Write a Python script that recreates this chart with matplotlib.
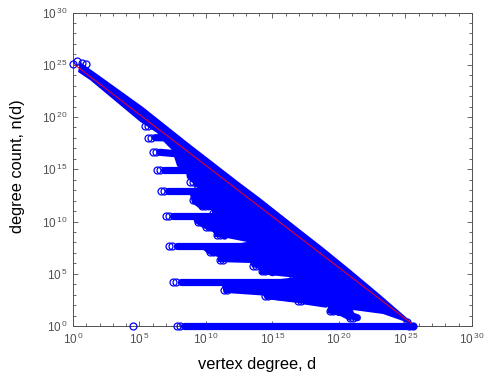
import numpy as np
import matplotlib
matplotlib.use("Agg")
import matplotlib.pyplot as plt

plt.rcParams['font.family'] = ['Liberation Sans', 'DejaVu Sans']
plt.rcParams['mathtext.default'] = 'regular'

# all values are log10 of the axis value
# fit line
fit_d = [0.15, 25.41]
fit_n = [24.98, 0.29]

# outline of the solid blue mass
blob_d = [0.53, 1.80, 5.26, 8.57, 12.56, 14.06, 17.07, 18.80, 20.83, 23.08, 25.11, 25.49,
          25.11, 24.81, 23.31, 21.05, 21.20, 20.83, 20.08, 19.10, 19.17, 18.72, 16.92, 14.44,
          14.21, 11.35, 11.20, 16.54, 13.98, 14.06, 13.46, 13.31, 10.90, 10.90, 10.15, 9.77,
          13.08, 11.58, 10.68, 10.53, 9.77, 9.17, 9.02, 10.45, 10.45, 9.55, 8.95, 8.80,
          9.40, 8.57, 8.50, 7.82, 7.44, 6.77, 6.32, 5.04, 1.28, 0.38]
blob_n = [25.26, 24.12, 20.96, 17.61, 13.68, 12.25, 9.23, 7.51, 5.41, 3.01, 0.77, 0.29,
          0.29, 0.48, 1.15, 1.53, 1.05, 0.48, 0.96, 1.24, 1.82, 1.91, 2.20, 2.58,
          3.16, 3.16, 3.83, 4.64, 4.98, 5.45, 5.65, 6.03, 6.12, 6.60, 6.89, 7.32,
          8.04, 8.42, 8.52, 9.00, 9.38, 9.86, 10.24, 10.81, 11.10, 11.20, 11.77, 12.54,
          13.21, 14.16, 14.64, 15.31, 16.84, 17.70, 18.47, 19.55, 23.54, 24.31]

# horizontal runs sticking out of the mass: start d, end d, start n, end n
run_d0 = [5.39, 5.64, 5.99, 6.29, 6.62, 6.97, 7.24, 7.54, 7.80,
          8.50, 8.80, 9.38, 9.05, 9.68, 10.50, 9.42, 10.00, 10.80, 10.30, 11.05,
          13.53, 14.19, 11.35, 14.44, 16.54, 16.92, 19.32, 20.83]
run_d1 = [6.30, 7.40, 7.60, 8.60, 9.60, 10.60, 13.00, 17.00, 25.60,
          9.00, 9.30, 9.80, 9.50, 10.20, 11.00, 10.00, 10.60, 11.40, 11.00, 11.60,
          14.20, 15.00, 15.00, 17.00, 17.20, 19.00, 20.00, 21.00]
run_n0 = [19.17, 18.02, 16.62, 14.90, 12.89, 10.53, 7.66, 4.21, 0.00,
          15.24, 13.78, 13.27, 12.06, 11.48, 10.84, 9.95, 9.44, 8.71, 7.08, 6.34,
          5.77, 5.26, 3.47, 2.87, 4.62, 2.39, 1.46, 0.79]
run_n1 = [19.00, 18.00, 16.50, 14.90, 12.89, 10.53, 7.66, 4.21, 0.00,
          15.10, 13.60, 13.20, 12.00, 11.40, 10.80, 9.80, 9.30, 8.60, 7.00, 6.30,
          5.70, 5.10, 3.20, 2.60, 4.50, 2.10, 1.30, 0.95]

# open circles that stay visible
head_d = [0.02, 0.32, 0.65, 0.98, 4.50, 25.10, 25.30, 25.55]
head_n = [25.04, 25.33, 25.20, 25.08, 0.00, 0.35, 0.00, 0.00]

major_exp = [0, 5, 10, 15, 20, 25, 30]
tick_labels = [r'$10^{\,%d}$' % e for e in major_exp]
minor_exp = [e for e in range(31) if e not in major_exp]

blue = '#0000ff'
gray = '#505050'

fig = plt.figure(figsize=(4.85, 3.87), dpi=100)
ax = fig.add_axes([73 / 485, 61 / 387, 399 / 485, 313.5 / 387])

ax.fill(10.0 ** np.array(blob_d), 10.0 ** np.array(blob_n), color=blue, lw=0, zorder=2)

for d0, d1, n0, n1 in zip(run_d0, run_d1, run_n0, run_n1):
    # solid part starts just right of the first circles
    ax.plot([10.0 ** (d0 + 0.55), 10.0 ** d1], [10.0 ** n0, 10.0 ** n1], color=blue, lw=5.2,
            solid_capstyle='round', clip_on=False, zorder=3)
    ax.plot([10.0 ** d0, 10.0 ** (d0 + 0.22)], [10.0 ** n0, 10.0 ** n0], ls='none', marker='o',
            mfc='none', mec=blue, ms=5.0, mew=0.9, clip_on=False, zorder=3)

ax.plot(10.0 ** np.array(head_d), 10.0 ** np.array(head_n), ls='none', marker='o', mfc='none',
        mec=blue, ms=5.0, mew=0.9, clip_on=False, zorder=3)
ax.plot(10.0 ** np.array(fit_d), 10.0 ** np.array(fit_n), color='#e0002a', lw=0.8, zorder=4)

ax.set_xscale('log')
ax.set_yscale('log')
ax.set_xlim(1, 1e30)
ax.set_ylim(1, 1e30)
major = [10.0 ** e for e in major_exp]
minor = [10.0 ** e for e in minor_exp]
ax.set_xticks(major, tick_labels)
ax.set_yticks(major, tick_labels)
ax.set_xticks(minor, [''] * len(minor), minor=True)
ax.set_yticks(minor, [''] * len(minor), minor=True)
ax.tick_params(which='major', direction='in', top=True, right=True, length=3.5, width=0.6,
               color=gray, labelcolor=gray, labelsize=8.5, pad=4)
ax.tick_params(which='minor', direction='in', top=True, right=True, length=2, width=0.6, color=gray)
for s in ax.spines.values():
    s.set_linewidth(0.7)
    s.set_color(gray)

ax.set_xlabel('vertex degree, d', fontsize=11.8)
ax.xaxis.set_label_coords((257.5 - 73) / 399, -38 / 313.5, transform=ax.transAxes)
ax.set_ylabel('degree count, n(d)', fontsize=11.8)
ax.yaxis.set_label_coords((18 - 73) / 399, (326 - 166) / 313.5, transform=ax.transAxes)
ax.yaxis.label.set_verticalalignment('center')
ax.xaxis.label.set_verticalalignment('center')

fig.savefig('out.png', dpi=100)
